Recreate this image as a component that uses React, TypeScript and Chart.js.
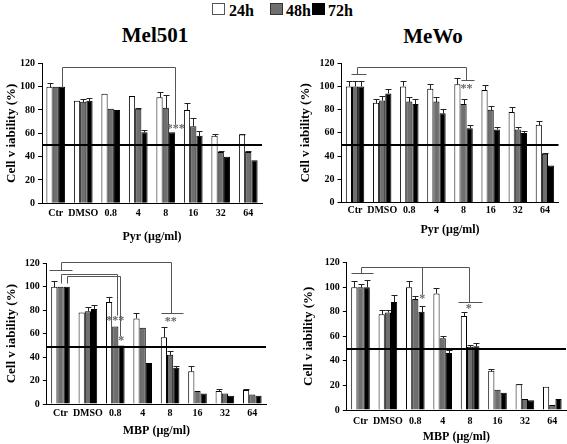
import React, { useEffect, useRef } from "react";
import { Chart, registerables } from "chart.js";

Chart.register(...registerables);

// ---------- data ----------
const categories = ["Ctr", "DMSO", "0.8", "4", "8", "16", "32", "64"];
const seriesLabels = ["24h", "48h", "72h"];
const yTickValues = [0, 20, 40, 60, 80, 100, 120];

// Mel501 – Pyr
const melPyr24 = [100, 88, 94, 92, 91, 80, 58, 59];
const melPyr48 = [100, 87, 81, 81, 82, 66, 44, 44];
const melPyr72 = [100, 88, 80, 61, 61, 58, 40, 37];
const melPyrErr24 = [3, 0, 0, 0, 4, 6, 1.5, 0.5];
const melPyrErr48 = [0, 2, 0, 0.5, 11, 7, 0.5, 0.5];
const melPyrErr72 = [0, 2, 0, 1.5, 0, 4, 0, 0];

// MeWo – Pyr
const mewoPyr24 = [100, 86, 100, 98, 102, 97, 78, 67];
const mewoPyr48 = [100, 88, 87, 87, 85, 80, 63, 42];
const mewoPyr72 = [100, 94, 85, 77, 64, 63, 60, 32];
const mewoPyrErr24 = [4.5, 3.5, 4.5, 4.5, 5, 4.5, 4, 3];
const mewoPyrErr48 = [4.5, 3.5, 4, 4, 4, 3, 2, 1];
const mewoPyrErr72 = [4.5, 4, 4, 3.5, 3, 2.5, 1.5, 0];

// Mel501 – MBP
const melMbp24 = [100, 78, 87, 73, 57, 28, 11, 12];
const melMbp48 = [100, 79, 66, 65, 42, 11, 9, 8];
const melMbp72 = [100, 81, 50, 35, 31, 9, 7, 7];
const melMbpErr24 = [5, 0, 4.5, 4.5, 8.5, 4.5, 1.5, 0.5];
const melMbpErr48 = [0, 3.5, 0, 0, 3.5, 0, 0, 0];
const melMbpErr72 = [0, 3.5, 0, 0, 1.5, 0, 0, 0];

// MeWo – MBP
const mewoMbp24 = [100, 78, 100, 95, 76.5, 32, 21, 19];
const mewoMbp48 = [100, 79.5, 90.5, 58.5, 51.5, 16.5, 9, 4];
const mewoMbp72 = [100, 88, 80, 46.5, 52, 14, 8, 9];
const mewoMbpErr24 = [5, 3.5, 5, 4.5, 3, 1.2, 0.5, 0];
const mewoMbpErr48 = [3, 2, 2, 1.5, 1.5, 0, 0, 0];
const mewoMbpErr72 = [6, 5.5, 4.5, 2.5, 2.5, 0, 0, 0];

// 50% reference lines
const thresholds = [50, 50, 49, 50];

// significance brackets (x = category index, y = value)
const melPyrBrackets = [[[0.24, 100], [0.24, 117], [4.34, 117], [4.34, 68]]];
const melPyrStars = [{ x: 4.36, y: 65.5, text: "***" }];

const mewoPyrBrackets = [
  [[-0.16, 110.5], [0.4, 110.5]],
  [[0.06, 110.5], [0.06, 117], [4.09, 117], [4.09, 105.6]],
  [[3.89, 105.6], [4.38, 105.6]],
];
const mewoPyrStars = [{ x: 4.11, y: 100, text: "**" }];

const melMbpBrackets = [
  [[-0.42, 114.1], [0.42, 114.1]],
  [[0.0, 114.1], [0.0, 120.7], [4.02, 120.7], [4.02, 77.5]],
  [[3.66, 77.5], [4.48, 77.5]],
  [[0.0, 103.6], [0.0, 110.6], [2.07, 110.6], [2.07, 76]],
  [[0.22, 103.6], [0.22, 109.0], [2.17, 109.0], [2.17, 58]],
];
const melMbpStars = [
  { x: 4.02, y: 71.5, text: "**" },
  { x: 2.0, y: 73, text: "***" },
  { x: 2.22, y: 55.5, text: "*" },
];

const mewoMbpBrackets = [
  [[-0.36, 111.4], [0.47, 111.4]],
  [[0.0, 111.4], [0.0, 116.7], [3.97, 116.7], [3.97, 88.2]],
  [[2.23, 116.7], [2.23, 94.3]],
  [[3.57, 88.2], [4.42, 88.2]],
];
const mewoMbpStars = [
  { x: 2.25, y: 92, text: "*" },
  { x: 3.95, y: 83.7, text: "*" },
];

// ---------- styling / layout ----------
const SERIF = "'Liberation Serif', 'Times New Roman', Times, serif";
const barColors = ["#ffffff", "#6f6f6f", "#000000"];
const lineGray = "#555555";
const starGray = "#666666";

type Star = { x: number; y: number; text: string };
type PanelDef = {
  key: string;
  values: number[][];
  errors: number[][];
  threshold: number;
  xTitle: string;
  brackets: number[][][];
  stars: Star[];
  left: number;
  top: number;
  width: number;
  height: number;
  padTop: number;
  padRight: number;
  padBottom: number;
  yWidth: number;
  xHeight: number;
  yTitlePad: number;
  xTickPad: number;
};

const panels: PanelDef[] = [
  {
    key: "melPyr",
    values: [melPyr24, melPyr48, melPyr72],
    errors: [melPyrErr24, melPyrErr48, melPyrErr72],
    threshold: thresholds[0],
    xTitle: "Pyr (µg/ml)",
    brackets: melPyrBrackets,
    stars: melPyrStars,
    left: 0, top: 0, width: 290, height: 250,
    padTop: 63.3, padRight: 28, padBottom: 7,
    yWidth: 42, xHeight: 39.7, yTitlePad: 5.5, xTickPad: 4,
  },
  {
    key: "mewoPyr",
    values: [mewoPyr24, mewoPyr48, mewoPyr72],
    errors: [mewoPyrErr24, mewoPyrErr48, mewoPyrErr72],
    threshold: thresholds[1],
    xTitle: "Pyr (µg/ml)",
    brackets: mewoPyrBrackets,
    stars: mewoPyrStars,
    left: 290, top: 0, width: 277, height: 250,
    padTop: 63.3, padRight: 8.5, padBottom: 14,
    yWidth: 51.5, xHeight: 33.5, yTitlePad: 9.2, xTickPad: 2,
  },
  {
    key: "melMbp",
    values: [melMbp24, melMbp48, melMbp72],
    errors: [melMbpErr24, melMbpErr48, melMbpErr72],
    threshold: thresholds[2],
    xTitle: "MBP (µg/ml)",
    brackets: melMbpBrackets,
    stars: melMbpStars,
    left: 0, top: 250, width: 290, height: 194,
    padTop: 13.3, padRight: 24, padBottom: 7,
    yWidth: 46.8, xHeight: 33, yTitlePad: 4.8, xTickPad: 3,
  },
  {
    key: "mewoMbp",
    values: [mewoMbp24, mewoMbp48, mewoMbp72],
    errors: [mewoMbpErr24, mewoMbpErr48, mewoMbpErr72],
    threshold: thresholds[3],
    xTitle: "MBP (µg/ml)",
    brackets: mewoMbpBrackets,
    stars: mewoMbpStars,
    left: 290, top: 250, width: 277, height: 194,
    padTop: 12.7, padRight: 1, padBottom: 1,
    yWidth: 56.8, xHeight: 33, yTitlePad: 11.8, xTickPad: 5,
  },
];

const crisp = (v: number) => Math.round(v) + 0.5;

function makeOverlay(def: PanelDef) {
  return {
    id: "overlay_" + def.key,
    afterDatasetsDraw(chart: any) {
      const { ctx, chartArea } = chart;
      const xs = chart.scales.x;
      const ys = chart.scales.y;
      ctx.save();

      // 50% line
      const ty = ys.getPixelForValue(def.threshold);
      ctx.strokeStyle = "#000";
      ctx.lineWidth = 2;
      ctx.beginPath();
      ctx.moveTo(chartArea.left, Math.round(ty));
      ctx.lineTo(chartArea.right, Math.round(ty));
      ctx.stroke();

      // error bars (positive only)
      ctx.lineWidth = 1;
      ctx.strokeStyle = "#222";
      def.errors.forEach((errs, d) => {
        const meta = chart.getDatasetMeta(d);
        meta.data.forEach((bar: any, i: number) => {
          const e = errs[i];
          if (!e) return;
          const v = def.values[d][i];
          const yTop = crisp(ys.getPixelForValue(v + e));
          const yBase = crisp(ys.getPixelForValue(v));
          const bx = crisp(bar.x);
          ctx.beginPath();
          ctx.moveTo(bx, yBase);
          ctx.lineTo(bx, yTop);
          ctx.moveTo(bx - 3, yTop);
          ctx.lineTo(bx + 3, yTop);
          ctx.stroke();
        });
      });

      // brackets
      ctx.strokeStyle = lineGray;
      ctx.lineWidth = 1;
      def.brackets.forEach((poly) => {
        ctx.beginPath();
        poly.forEach(([x, y], k) => {
          const px = crisp(xs.getPixelForValue(x));
          const py = crisp(ys.getPixelForValue(y));
          if (k === 0) ctx.moveTo(px, py);
          else ctx.lineTo(px, py);
        });
        ctx.stroke();
      });

      // stars
      ctx.fillStyle = starGray;
      ctx.font = `bold 12px ${SERIF}`;
      ctx.textAlign = "center";
      ctx.textBaseline = "middle";
      def.stars.forEach((s) => {
        ctx.fillText(s.text, xs.getPixelForValue(s.x), ys.getPixelForValue(s.y) + 2);
      });
      ctx.restore();
    },
  };
}

function Panel({ def }: { def: PanelDef }) {
  const ref = useRef<HTMLCanvasElement | null>(null);
  useEffect(() => {
    if (!ref.current) return;
    const chart = new Chart(ref.current, {
      type: "bar",
      data: {
        labels: categories,
        datasets: def.values.map((vals, d) => ({
          label: seriesLabels[d],
          data: vals,
          backgroundColor: barColors[d],
          borderColor: "#000",
          borderWidth: 1,
          categoryPercentage: 0.68,
          barPercentage: 1.0,
        })),
      },
      options: {
        responsive: false,
        maintainAspectRatio: false,
        animation: false,
        layout: {
          padding: { top: def.padTop, right: def.padRight, bottom: def.padBottom, left: 0 },
        },
        plugins: {
          legend: { display: false },
          tooltip: { enabled: false },
          title: { display: false },
        },
        scales: {
          x: {
            type: "category",
            offset: true,
            grid: { display: false, drawTicks: false },
            border: { display: true, color: "#000", width: 1 },
            ticks: {
              color: "#000",
              autoSkip: false,
              maxRotation: 0,
              minRotation: 0,
              padding: def.xTickPad,
              font: { family: SERIF, size: 10, weight: "bold" },
            },
            title: {
              display: true,
              text: def.xTitle,
              color: "#000",
              font: { family: SERIF, size: 12, weight: "bold", lineHeight: 1 },
              padding: { top: 0, bottom: 0 },
            },
            afterFit: (s: any) => {
              s.height = def.xHeight;
            },
          },
          y: {
            min: 0,
            max: 120,
            afterBuildTicks: (axis: any) => {
              axis.ticks = yTickValues.map((v) => ({ value: v }));
            },
            grid: { drawOnChartArea: false, drawTicks: true, tickLength: 4, color: "#000" },
            border: { display: true, color: "#000", width: 1 },
            ticks: {
              color: "#000",
              padding: 3,
              font: { family: SERIF, size: 10, weight: "bold" },
            },
            title: {
              display: true,
              text: "Cell v iability (%)",
              color: "#000",
              font: { family: SERIF, size: 13, weight: "bold", lineHeight: 1 },
              padding: { top: def.yTitlePad, bottom: 0 },
            },
            afterFit: (s: any) => {
              s.width = def.yWidth;
            },
          },
        },
      } as any,
      plugins: [makeOverlay(def)],
    });
    return () => chart.destroy();
  }, [def]);
  return (
    <canvas
      ref={ref}
      width={def.width}
      height={def.height}
      style={{ position: "absolute", left: def.left, top: def.top, width: def.width, height: def.height }}
    />
  );
}

const titleStyle = (cx: number, top: number): React.CSSProperties => ({
  position: "absolute",
  left: cx,
  top,
  transform: "translateX(-50%)",
  fontFamily: SERIF,
  fontWeight: "bold",
  fontSize: 21,
  lineHeight: "21px",
  color: "#000",
  whiteSpace: "nowrap",
});

const legendBoxes = [
  { left: 212, fill: barColors[0], border: "#555" },
  { left: 270, fill: barColors[1], border: "#333" },
  { left: 311.5, fill: barColors[2], border: "#000" },
];
const legendTextLeft = [229, 286, 328];

export default function App() {
  return (
    <div
      style={{
        position: "absolute",
        left: 0,
        top: 0,
        width: 567,
        height: 444,
        background: "#fff",
        overflow: "hidden",
      }}
    >
      {legendBoxes.map((b, i) => (
        <div
          key={"box" + i}
          style={{
            position: "absolute",
            left: b.left,
            top: 3,
            width: 11,
            height: 10,
            background: b.fill,
            border: `1px solid ${b.border}`,
          }}
        />
      ))}
      {seriesLabels.map((s, i) => (
        <div
          key={"lt" + i}
          style={{
            position: "absolute",
            left: legendTextLeft[i],
            top: 3,
            fontFamily: SERIF,
            fontWeight: "bold",
            fontSize: 16,
            lineHeight: "16px",
            color: "#000",
            whiteSpace: "nowrap",
          }}
        >
          {s}
        </div>
      ))}
      <div style={titleStyle(155, 25)}>Mel501</div>
      <div style={titleStyle(433, 26)}>MeWo</div>
      {panels.map((p) => (
        <Panel key={p.key} def={p} />
      ))}
    </div>
  );
}
